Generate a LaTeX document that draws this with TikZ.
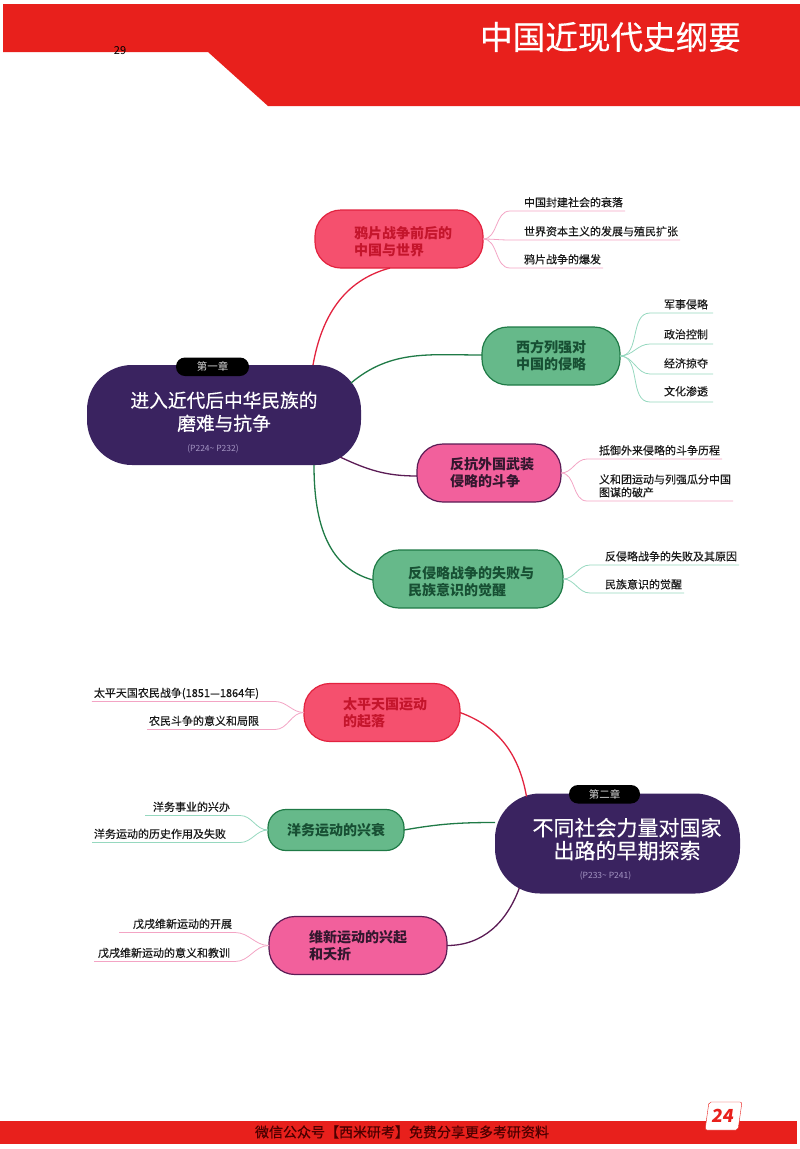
\documentclass[tikz,border=0pt]{standalone}
\usepackage{fontspec}
\setmainfont{Noto Sans CJK SC}
\newfontfamily\heavycjk[FakeBold=0.35]{Noto Sans CJK SC}
\usetikzlibrary{positioning}
\definecolor{bannerred}{HTML}{E8201C}
\definecolor{deeppurple}{HTML}{3A2360}
\definecolor{redfill}{HTML}{F5506E}
\definecolor{reddraw}{HTML}{E2233F}
\definecolor{redtext}{HTML}{C4152C}
\definecolor{greenfill}{HTML}{66B98A}
\definecolor{greendraw}{HTML}{1F7A46}
\definecolor{greentext}{HTML}{174F33}
\definecolor{pinkfill}{HTML}{F2609C}
\definecolor{pinkdraw}{HTML}{5B1C55}
\definecolor{pinktext}{HTML}{33172E}
\definecolor{pinktwig}{HTML}{F3A4C4}
\definecolor{tealtwig}{HTML}{96D8BF}
\definecolor{pagetext}{HTML}{A596C4}
\tikzset{
  chapter/.style = {rectangle, rounded corners = 45pt, fill = deeppurple, text = white, outer sep = 0pt, inner sep = 0pt, align = center, minimum height = 100pt, font = \heavycjk\fontsize{18.7}{23}\selectfont},
  badge/.style = {rectangle, rounded corners = 9pt, fill = black, text = white!85!black, outer sep = 0pt, inner sep = 0pt, minimum height = 18.5pt, font = \fontsize{10.5}{12}\selectfont},
  pages/.style = {text = pagetext, inner sep = 0pt, font = \fontsize{8.5}{10}\selectfont},
  hub/.style = {rectangle, rounded corners = 26pt, line width = 1.2pt, outer sep = 0pt, inner sep = 0pt, align = left, minimum height = 58pt, font = \fontsize{14}{17}\selectfont\bfseries},
  redhub/.style = {hub, fill = redfill, draw = reddraw, text = redtext},
  greenhub/.style = {hub, fill = greenfill, draw = greendraw, text = greentext},
  pinkhub/.style = {hub, fill = pinkfill, draw = pinkdraw, text = pinktext},
  leaf/.style = {outer sep = 0pt, inner xsep = 2pt, inner ysep = 1.5pt, text height = 9pt, text depth = 3pt, align = left, text = black!90, font = \heavycjk\fontsize{11}{13}\selectfont},
  trunk/.style = {line width = 1.3pt},
  twigright/.style = {line width = 0.8pt, out = 0, in = 180, looseness = 1},
  twigleft/.style = {line width = 0.8pt, out = 180, in = 0, looseness = 1}
}
\begin{document}
\begin{tikzpicture}[x = 1pt, y = -1pt]
\useasboundingbox (0,0) rectangle (800,1149);
\fill [bannerred] (3,4) -- (800,4) -- (800,106) -- (268,106) -- (208,52) -- (3,52) -- cycle;
\fill [bannerred] (0,1121) rectangle (797,1144);
\node [text = white, inner sep = 0pt, font = \heavycjk\fontsize{32.6}{36}\selectfont] (title) at (610.5,37) {中国近现代史纲要};
\node [inner sep = 0pt, font = \fontsize{11}{12}\selectfont] (sheet) at (120,51) {29};
\node [inner sep = 0pt, text = black!70!red, font = \heavycjk\fontsize{14}{16}\selectfont] (footer) at (402,1132) {微信公众号【西米研考】免费分享更多考研资料};
\node [draw = bannerred, fill = white, rounded corners = 2pt, xslant = 0.14, transform shape, minimum width = 33pt, minimum height = 28pt, inner sep = 0pt, text = bannerred, font = \fontsize{18}{20}\selectfont\bfseries] (folio) at (723.5,1116) {24};

\node [chapter, minimum width = 274pt, text depth = 8pt] (ch1) at (224,415) {进入近代后中华民族的\\磨难与抗争};
\node [badge, minimum width = 73pt] (badge1) [above = -11pt of ch1, xshift = -11.5pt] {第一章};
\node [pages] (pages1) [above = 12pt of ch1.south, xshift = -11pt] {(P224\textasciitilde{} P232)};
\node [redhub, minimum width = 168pt, text height = 35pt] (war) [above right = 97pt and -46pt of ch1] {\hspace*{8pt}鸦片战争前后的\\\hspace*{8pt}中国与世界};
\node [greenhub, minimum width = 138pt] (west) [above right = -20pt and 121pt of ch1] {西方列强对\\中国的侵略};
\node [pinkhub, minimum width = 144pt] (armed) [below right = -21pt and 56pt of ch1] {\hspace*{6pt}反抗外国武装\\\hspace*{6pt}侵略的斗争};
\node [greenhub, minimum width = 190pt, text height = 34pt] (fail) [below right = 85pt and 12pt of ch1] {\hspace*{6pt}反侵略战争的失败与\\\hspace*{6pt}民族意识的觉醒};

\node [leaf] (war_1) [above right = -1pt and 39pt of war] {中国封建社会的衰落};
\node [leaf, below = 29pt of war_1.south west, anchor = south west] (war_2) {世界资本主义的发展与殖民扩张};
\node [leaf, below = 28pt of war_2.south west, anchor = south west] (war_3) {鸦片战争的爆发};
\node [leaf] (west_1) [above right = 14pt and 42pt of west] {军事侵略};
\node [leaf, text depth = 4pt, below = 31pt of west_1.south west, anchor = south west] (west_2) {政治控制};
\node [leaf, text depth = 5pt, below = 30pt of west_2.south west, anchor = south west] (west_3) {经济掠夺};
\node [leaf, text depth = 5pt, below = 28pt of west_3.south west, anchor = south west] (west_4) {文化渗透};
\node [leaf] (armed_1) [above right = -15pt and 36pt of armed] {抵御外来侵略的斗争历程};
\node [leaf, text height = 22pt, below = 42pt of armed_1.south west, anchor = south west] (armed_2) {义和团运动与列强瓜分中国\\图谋的破产};
\node [leaf] (fail_1) [above right = -15pt and 40pt of fail] {反侵略战争的失败及其原因};
\node [leaf, below = 28pt of fail_1.south west, anchor = south west] (fail_2) {民族意识的觉醒};

\node [chapter, minimum width = 245pt, text depth = 10.5pt, font = \heavycjk\fontsize{21}{23}\selectfont] (ch2) at (617.5,843.5) {\hspace*{19pt}不同社会力量对国家\\\hspace*{19pt}出路的早期探索};
\node [badge, minimum width = 71pt] (badge2) [above = -10pt of ch2, xshift = -13pt] {第二章};
\node [pages] (pages2) [above = 13pt of ch2.south, xshift = -12pt] {(P233\textasciitilde{} P241)};
\node [redhub, minimum width = 156pt] (taiping) [above left = 52pt and 35pt of ch2] {\hspace*{6pt}太平天国运动\\\hspace*{6pt}的起落};
\node [greenhub, rounded corners = 18pt, minimum width = 136pt, minimum height = 41pt] (yangwu) [above left = -57pt and 91pt of ch2] {洋务运动的兴衰};
\node [pinkhub, minimum width = 178pt] (reform) [below left = 23pt and 48pt of ch2] {维新运动的兴起\\和夭折};

\node [leaf] (taiping_1) [above left = -18pt and 43pt of taiping] {太平天国农民战争(1851—1864年)};
\node [leaf, below = 28pt of taiping_1.south east, anchor = south east] (taiping_2) {农民斗争的意义和局限};
\node [leaf] (yangwu_1) [above left = -6pt and 36pt of yangwu] {洋务事业的兴办};
\node [leaf, below = 27pt of yangwu_1.south east, anchor = south east, xshift = -4pt] (yangwu_2) {洋务运动的历史作用及失败};
\node [leaf] (reform_1) [above left = -16pt and 35pt of reform] {戊戌维新运动的开展};
\node [leaf, below = 29pt of reform_1.south east, anchor = south east, xshift = -2pt] (reform_2) {戊戌维新运动的意义和教训};

\path [trunk]
([xshift = 89pt]ch1.north) edge [reddraw, out = 80, in = 195] ([xshift = -9pt]war.south)
([xshift = 127pt, yshift = 32pt]ch1.center) edge [greendraw, out = 40, in = 180] ([yshift = 1pt]west.west)
([xshift = 116pt, yshift = -42pt]ch1.center) edge [pinkdraw, out = -25, in = 180] ([yshift = -3pt]armed.west)
([xshift = 90pt]ch1.south) edge [greendraw, out = -90, in = 165] ([yshift = -1pt]fail.west)
(taiping.east) edge [reddraw, out = -20, in = 100] ([xshift = -91pt, yshift = -3pt]ch2.north)
(yangwu.east) edge [greendraw, out = 10, in = 180] ([yshift = 21pt]ch2.west)
(reform.east) edge [pinkdraw, out = 0, in = -110] ([xshift = -98pt, yshift = 6pt]ch2.south);

\draw [twigright, pinktwig] (war.east) to ([xshift = -12pt]war_1.south west) -- (war_1.south east);
\draw [twigright, pinktwig] (war.east) to ([xshift = -12pt]war_2.south west) -- (war_2.south east);
\draw [twigright, pinktwig] (war.east) to ([xshift = -12pt]war_3.south west) -- (war_3.south east);
\draw [twigright, tealtwig] (west.east) to ([xshift = -12pt]west_1.south west) -- ([xshift = 3pt]west_1.south east);
\draw [twigright, tealtwig] (west.east) to ([xshift = -12pt]west_2.south west) -- ([xshift = 3pt]west_2.south east);
\draw [twigright, tealtwig] (west.east) to ([xshift = -12pt]west_3.south west) -- ([xshift = 3pt]west_3.south east);
\draw [twigright, tealtwig] (west.east) to ([xshift = -12pt]west_4.south west) -- ([xshift = 3pt]west_4.south east);
\draw [twigright, pinktwig] (armed.east) to ([xshift = -10pt]armed_1.south west) -- (armed_1.south east);
\draw [twigright, pinktwig] (armed.east) to ([xshift = -10pt]armed_2.south west) -- (armed_2.south east);
\draw [twigright, tealtwig] (fail.east) to ([xshift = -13pt]fail_1.south west) -- (fail_1.south east);
\draw [twigright, tealtwig] (fail.east) to ([xshift = -13pt]fail_2.south west) -- (fail_2.south east);
\draw [twigleft, pinktwig] (taiping.west) to ([xshift = 14pt]taiping_1.south east) -- (taiping_1.south west);
\draw [twigleft, pinktwig] (taiping.west) to ([xshift = 14pt]taiping_2.south east) -- (taiping_2.south west);
\draw [twigleft, tealtwig] (yangwu.west) to ([xshift = 8pt]yangwu_1.south east) -- ([xshift = -6pt]yangwu_1.south west);
\draw [twigleft, tealtwig] (yangwu.west) to ([xshift = 12pt]yangwu_2.south east) -- (yangwu_2.south west);
\draw [twigleft, pinktwig] (reform.west) to ([xshift = 1pt]reform_1.south east) -- ([xshift = -12pt]reform_1.south west);
\draw [twigleft, pinktwig] (reform.west) to ([xshift = 3pt]reform_2.south east) -- ([xshift = -2pt]reform_2.south west);
\end{tikzpicture}
\end{document}
